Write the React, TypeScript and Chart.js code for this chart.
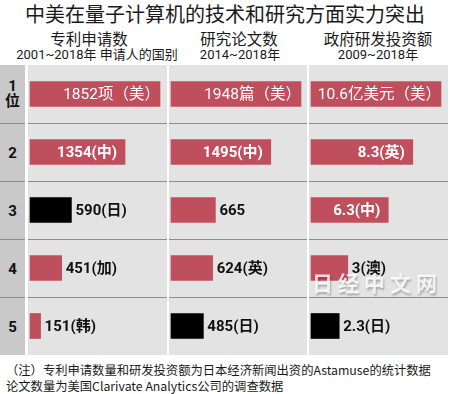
import React, { useEffect, useRef } from "react";
import { Chart, registerables } from "chart.js";

Chart.register(...registerables);

// ---------- data ----------
const title = "中美在量子计算机的技术和研究方面实力突出";
const ranks = ["1", "2", "3", "4", "5"];

const patentTitle = "专利申请数";
const patentSub = "2001~2018年 申请人的国别";
const patentValues = [1852, 1354, 590, 451, 151];
const patentLabels = ["1852项（美）", "1354(中)", "590(日)", "451(加)", "151(韩)"];
const patentCountries = ["美", "中", "日", "加", "韩"];

const paperTitle = "研究论文数";
const paperSub = "2014~2018年";
const paperValues = [1948, 1495, 665, 624, 485];
const paperLabels = ["1948篇（美）", "1495(中)", "665", "624(英)", "485(日)"];
const paperCountries = ["美", "中", "", "英", "日"];

const fundTitle = "政府研发投资额";
const fundSub = "2009~2018年";
const fundValues = [10.6, 8.3, 6.3, 3, 2.3];
const fundLabels = ["10.6亿美元（美）", "8.3(英)", "6.3(中)", "3(澳)", "2.3(日)"];
const fundCountries = ["美", "英", "中", "澳", "日"];

const noteLines = [
  "（注）专利申请数量和研发投资额为日本经济新闻出资的Astamuse的统计数据",
  "论文数量为美国Clarivate Analytics公司的调查数据",
];
const watermark = "日经中文网";

// ---------- styles ----------
const FONT = '"Noto Sans CJK SC", "Noto Sans", sans-serif';
const FONT_MIX = 'Roboto, "Noto Sans CJK SC", sans-serif';
const ROSE = "#c04f5e";
const JAPAN = "#000000";
const PANEL_BG = "#e3e3e3";
const RANK_BG = "#c9c9c9";
const LINE = "#8d8d8d";
const TOP = 65;
const H = 290;
const MAX_BAR = 130;
const BAR_OFFSET = 2;

const panels = [
  { x: 28, w: 139, values: patentValues, labels: patentLabels, countries: patentCountries, title: patentTitle, sub: patentSub, tx: 89, sx: 97 },
  { x: 169, w: 138, values: paperValues, labels: paperLabels, countries: paperCountries, title: paperTitle, sub: paperSub, tx: 239, sx: 240 },
  { x: 309, w: 139, values: fundValues, labels: fundLabels, countries: fundCountries, title: fundTitle, sub: fundSub, tx: 378, sx: 378 },
];

const labelPlugin = {
  id: "barLabels",
  afterDatasetsDraw(chart: any, _args: any, opts: any) {
    const ctx = chart.ctx;
    const meta = chart.getDatasetMeta(0);
    const labels: string[] = opts.labels || [];
    meta.data.forEach((el: any, i: number) => {
      const w = el.x - el.base;
      const inside = w >= 60;
      ctx.save();
      ctx.font = `${i === 0 ? "normal" : "bold"} ${i === 0 ? 15.5 : 15}px ${FONT_MIX}`;
      ctx.textBaseline = "middle";
      if (inside) {
        ctx.fillStyle = "#ffffff";
        ctx.textAlign = "right";
        const pad = i === 0 ? 0 : 8;
        ctx.fillText(labels[i], el.x - pad, el.y + 1);
      } else {
        ctx.fillStyle = "#111111";
        ctx.textAlign = "left";
        ctx.fillText(labels[i], el.x + 4, el.y + 1);
      }
      ctx.restore();
    });
  },
};

export default function App() {
  const c0 = useRef<HTMLCanvasElement>(null);
  const c1 = useRef<HTMLCanvasElement>(null);
  const c2 = useRef<HTMLCanvasElement>(null);
  const refs = [c0, c1, c2];

  useEffect(() => {
    document.body.style.margin = "0";
    const charts = panels.map((p, idx) => {
      const maxVal = Math.max(...p.values);
      const unit = maxVal / MAX_BAR;
      return new Chart(refs[idx].current as HTMLCanvasElement, {
        type: "bar",
        data: {
          labels: ranks,
          datasets: [
            {
              data: p.values,
              backgroundColor: p.countries.map((c) => (c === "日" ? JAPAN : ROSE)),
              borderWidth: 0,
              barThickness: 25,
            },
          ],
        },
        options: {
          indexAxis: "y",
          animation: false,
          responsive: false,
          devicePixelRatio: 1,
          layout: { padding: 0 },
          plugins: {
            legend: { display: false },
            tooltip: { enabled: false },
            barLabels: { labels: p.labels },
          } as any,
          scales: {
            x: {
              type: "linear",
              display: false,
              min: -BAR_OFFSET * unit,
              max: (p.w - BAR_OFFSET) * unit,
            },
            y: {
              type: "category",
              display: true,
              offset: true,
              ticks: { display: false },
              border: { display: false },
              grid: {
                offset: true,
                drawTicks: false,
                lineWidth: 1,
                color: (c: any) =>
                  c.index === undefined || c.index === 0 || c.type !== "tick" ? "rgba(0,0,0,0)" : LINE,
              },
              afterFit: (s: any) => {
                s.width = 0;
              },
            },
          },
        },
        plugins: [labelPlugin],
      } as any);
    });
    return () => charts.forEach((c) => c.destroy());
  }, []);

  const rowH = H / ranks.length;

  return (
    <div
      style={{
        position: "absolute",
        left: 0,
        top: 0,
        width: 450,
        height: 394,
        background: "#ffffff",
        fontFamily: FONT,
        color: "#1a1a1a",
        overflow: "hidden",
      }}
    >
      <div
        style={{
          position: "absolute",
          left: 0,
          top: 0,
          width: 450,
          height: 28,
          lineHeight: "28px",
          fontSize: 20,
          textAlign: "center",
        }}
      >
        {title}
      </div>
      {panels.map((p, i) => (
        <React.Fragment key={"h" + i}>
          <div
            style={{
              position: "absolute",
              left: p.tx - 80,
              width: 160,
              top: 29,
              height: 18,
              lineHeight: "18px",
              fontSize: 15.5,
              textAlign: "center",
              whiteSpace: "nowrap",
            }}
          >
            {p.title}
          </div>
          <div
            style={{
              position: "absolute",
              left: p.sx - 90,
              width: 180,
              top: 47,
              height: 16,
              lineHeight: "16px",
              fontSize: 13,
              fontFamily: FONT_MIX,
              textAlign: "center",
              whiteSpace: "nowrap",
            }}
          >
            {p.sub}
          </div>
        </React.Fragment>
      ))}

      {/* rank column */}
      <div style={{ position: "absolute", left: 0, top: TOP, width: 25, height: H, background: RANK_BG }}>
        {ranks.map((r, i) => (
          <div
            key={r}
            style={{
              position: "absolute",
              left: 0,
              top: i * rowH,
              width: 25,
              height: rowH,
              borderTop: i === 0 ? "none" : `1px solid ${LINE}`,
              boxSizing: "border-box",
              display: "flex",
              flexDirection: "column",
              alignItems: "center",
              justifyContent: "center",
              fontWeight: "bold",
              fontSize: 15,
              fontFamily: FONT_MIX,
              lineHeight: i === 0 ? "15px" : "18px",
              color: "#111",
            }}
          >
            <span>{r}</span>
            {i === 0 ? <span>位</span> : null}
          </div>
        ))}
      </div>

      {panels.map((p, i) => (
        <div
          key={"p" + i}
          style={{ position: "absolute", left: p.x, top: TOP, width: p.w, height: H, background: PANEL_BG }}
        >
          <canvas ref={refs[i]} width={p.w} height={H} style={{ display: "block" }} />
        </div>
      ))}

      <div
        style={{
          position: "absolute",
          left: 312,
          top: 270,
          width: 135,
          height: 24,
          lineHeight: "24px",
          fontSize: 21,
          fontWeight: "bold",
          letterSpacing: 5,
          color: "rgba(255,255,255,0.8)",
          textShadow: "1px 2px 2px rgba(0,0,0,0.25)",
          whiteSpace: "nowrap",
          pointerEvents: "none",
        }}
      >
        {watermark}
      </div>

      {noteLines.map((t, i) => (
        <div
          key={"n" + i}
          style={{
            position: "absolute",
            left: 6,
            top: 362 + i * 16,
            height: 16,
            lineHeight: "16px",
            fontSize: 12.3,
            whiteSpace: "nowrap",
            color: "#1a1a1a",
          }}
        >
          {t}
        </div>
      ))}
    </div>
  );
}
